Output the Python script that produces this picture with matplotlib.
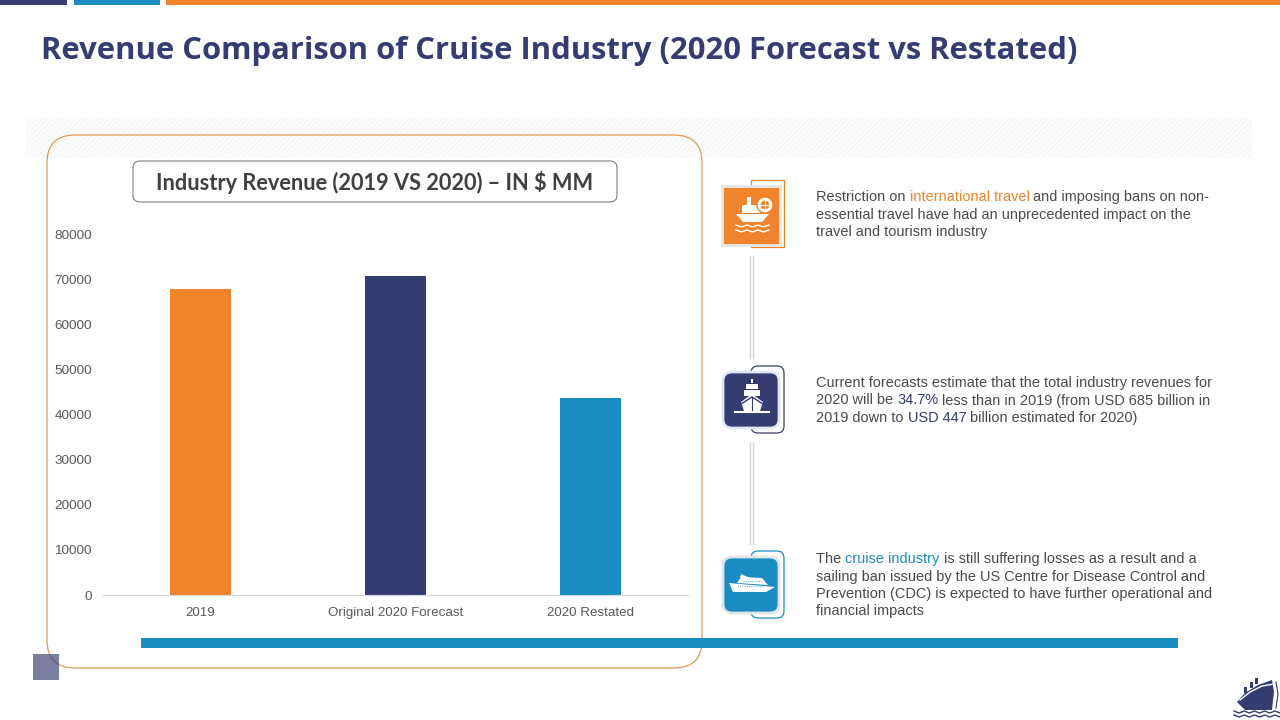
import matplotlib
matplotlib.use('Agg')
import matplotlib.pyplot as plt
from matplotlib.patches import FancyBboxPatch, Rectangle, Polygon, Circle

ORANGE = '#f0842c'
NAVY = '#343c72'
BLUE = '#1a8cc1'
DARK = '#404040'
BODY = '#4a4a4a'

categories = ['2019', 'Original 2020 Forecast', '2020 Restated']
revenue = [68000, 70800, 43800]
bar_colors = [ORANGE, NAVY, BLUE]
y_ticks = [0, 10000, 20000, 30000, 40000, 50000, 60000, 70000, 80000]

title = 'Revenue Comparison of Cruise Industry (2020 Forecast vs Restated)'
chart_title = 'Industry Revenue (2019 VS 2020) – IN $ MM'

# each line is a list of (text, colour) runs
para1 = [
    [('Restriction on ', BODY), ('international travel', ORANGE), (' and imposing bans on non-', BODY)],
    [('essential travel have had an unprecedented impact on the', BODY)],
    [('travel and tourism industry', BODY)],
]
para2 = [
    [('Current forecasts estimate that the total industry revenues for', BODY)],
    [('2020 will be ', BODY), ('34.7%', NAVY), (' less than in 2019 (from USD 685 billion in', BODY)],
    [('2019 down to ', BODY), ('USD 447', NAVY), (' billion estimated for 2020)', BODY)],
]
para3 = [
    [('The ', BODY), ('cruise industry', BLUE), (' is still suffering losses as a result and a', BODY)],
    [('sailing ban issued by the US Centre for Disease Control and', BODY)],
    [('Prevention (CDC) is expected to have further operational and', BODY)],
    [('financial impacts', BODY)],
]

plt.rcParams['hatch.linewidth'] = 0.4
fig = plt.figure(figsize=(12.8, 7.2), dpi=100, facecolor='white')

# page layer in pixel coordinates
bg = fig.add_axes([0, 0, 1, 1], zorder=0)
bg.set_xlim(0, 1280)
bg.set_ylim(720, 0)
bg.axis('off')

# top strips
bg.add_patch(Rectangle((0, 0), 67, 5, fc=NAVY, ec='none'))
bg.add_patch(Rectangle((74, 0), 86, 5, fc=BLUE, ec='none'))
bg.add_patch(Rectangle((166, 0), 1114, 5, fc=ORANGE, ec='none'))

bg.text(41, 51, title, fontsize=22.3, fontweight='bold', color=NAVY,
        family='Open Sans', va='center', ha='left')

# hatched band, it also shows through the top of the chart frame
bg.add_patch(Rectangle((25, 119), 1227, 39, fc='#fcfcfc', ec='#eeeeee', lw=0, hatch='//////'))

# chart frame
bg.add_patch(FancyBboxPatch((47 + 28, 135 + 28), 655 - 56, 533 - 56,
                            boxstyle='round,pad=28,rounding_size=28',
                            fc='none', ec='#e09a55', lw=0.9))

# chart title box
bg.add_patch(FancyBboxPatch((139, 167), 472, 29, boxstyle='round,pad=6,rounding_size=7',
                            fc='white', ec='#7f7f7f', lw=0.8))
bg.text(374.5, 182.5, chart_title, fontsize=15.7, fontweight='bold', color=DARK,
        family='Lato', ha='center', va='center')

# bottom bar and little square
bg.add_patch(Rectangle((141, 638), 1037, 10, fc=BLUE, ec='none'))
bg.add_patch(Rectangle((33, 654), 26, 26, fc=NAVY, ec='none', alpha=0.65, zorder=4))

# connector lines between icons
for y0, y1 in [(256, 358), (443, 544)]:
    bg.plot([749.5, 749.5], [y0, y1], color='#d4d4d4', lw=1)
    bg.plot([753, 753], [y0, y1], color='#d4d4d4', lw=1)


def icon_box(y, color, rounded, outline):
    # offset outline behind, then filled tile
    if rounded:
        bg.add_patch(FancyBboxPatch((755, y - 2), 25, 59, boxstyle='round,pad=4,rounding_size=7',
                                    fc='white', ec=outline, lw=0.9))
        bg.add_patch(FancyBboxPatch((727, y + 4), 48, 48, boxstyle='round,pad=4,rounding_size=9',
                                    fc=color, ec='#e2e5ec', lw=2))
    else:
        bg.add_patch(Rectangle((751, y - 6), 33, 67, fc='white', ec=outline, lw=0.9))
        bg.add_patch(Rectangle((722, y), 58, 59, fc=color, ec='#e8e8e8', lw=2))


def wave(x0, x1, y, color='white', lw=1):
    n = int((x1 - x0) / 5)
    xs = [x0 + i * (x1 - x0) / n for i in range(n + 1)]
    ys = [y + (1 if i % 2 else -1) for i in range(n + 1)]
    bg.plot(xs, ys, color=color, lw=lw, solid_joinstyle='round')


icon_box(186, ORANGE, False, ORANGE)
icon_box(372, NAVY, True, NAVY)
icon_box(557, BLUE, True, BLUE)

# orange tile: ship with globe
bg.add_patch(Polygon([(736, 214), (769, 214), (762, 222), (743, 222)], fc='white', ec='none'))
bg.add_patch(Rectangle((742, 205), 18, 8, fc='white', ec='none'))
bg.add_patch(Rectangle((747, 197), 4, 8, fc='white', ec='none'))
bg.add_patch(Circle((765, 205), 8, fc='white', ec=ORANGE, lw=1))
bg.add_patch(Circle((765, 205), 5, fc=ORANGE, ec='white', lw=0.8))
bg.plot([760, 770], [205, 205], color='white', lw=0.7)
bg.plot([765, 765], [200, 210], color='white', lw=0.7)
wave(736, 769, 226)
wave(736, 769, 231)

# navy tile: front view ship
bg.add_patch(Rectangle((750.5, 379), 2.5, 4, fc='white', ec='none'))
bg.add_patch(Rectangle((746, 384), 12, 5, fc='white', ec='none'))
bg.add_patch(Rectangle((744, 390), 16, 6, fc='white', ec='none'))
bg.add_patch(Polygon([(752, 394), (763, 402), (760, 411), (744, 411), (741, 402)], fc='white', ec='none'))
bg.plot([741, 752, 763], [404, 397, 404], color=NAVY, lw=1)
bg.plot([752, 752], [398, 411], color=NAVY, lw=0.8)
bg.plot([735, 769], [412, 412], color='white', lw=1.5)

# blue tile: cruise liner
bg.add_patch(Polygon([(729, 583), (775, 587), (766, 592), (733, 592)], fc='white', ec='none'))
bg.add_patch(Polygon([(737, 583), (741, 577), (762, 578), (768, 585)], fc='white', ec='none'))
bg.add_patch(Polygon([(740, 578), (741, 574), (750, 578)], fc='white', ec='none'))
bg.plot([738, 764], [586, 587], color=BLUE, lw=0.6, ls=':')
bg.plot([743, 762], [581, 581], color=BLUE, lw=0.6, ls=':')

# corner logo
bg.add_patch(Polygon([(1237, 702), (1245, 693), (1258, 685), (1272, 680), (1274, 692), (1272, 710), (1245, 710)],
                     fc=NAVY, ec='none'))
bg.plot([1240, 1250, 1262, 1274], [700, 692, 686, 684], color='white', lw=1)
for sx, sy in [(1244, 687), (1250, 682), (1255, 678)]:
    bg.add_patch(Rectangle((sx, sy), 3, 6, fc=NAVY, ec='none'))
bg.plot([1276, 1278, 1276], [682, 694, 708], color=NAVY, lw=0.8)
for wy in [712, 716]:
    wave(1234, 1280, wy, NAVY, 1)

# the bar chart itself
ax = fig.add_axes([103 / 1280, 1 - 595 / 720, 585 / 1280, 360 / 720], zorder=2)
ax.patch.set_alpha(0)
ax.bar(range(len(categories)), revenue, width=0.313, color=bar_colors)
ax.set_xlim(-0.5, 2.5)
ax.set_ylim(0, 80000)
ax.set_xticks(range(len(categories)))
ax.set_xticklabels(categories)
ax.set_yticks(y_ticks)
for s in ['top', 'right', 'left']:
    ax.spines[s].set_visible(False)
ax.spines['bottom'].set_color('#d9d9d9')
ax.spines['bottom'].set_linewidth(0.8)
ax.tick_params(axis='both', length=0, labelcolor='#595959')
ax.tick_params(axis='x', pad=15)
ax.tick_params(axis='y', pad=8)
for lab in ax.get_yticklabels():
    lab.set_family('Liberation Sans')
    lab.set_fontsize(9.7)
for lab in ax.get_xticklabels():
    lab.set_family('Liberation Sans')
    lab.set_fontsize(9.6)
    lab.set_verticalalignment('baseline')

renderer = fig.canvas.get_renderer()


def draw_runs(runs, x, y):
    for txt, col in runs:
        bg.text(x, y, txt, fontsize=10.45, color=col, family='Liberation Sans',
                va='baseline', ha='left')
        # measure with guard chars so that edge spaces count
        probe = bg.text(0, 0, '|' + txt + '|', fontsize=10.45, family='Liberation Sans')
        bar = bg.text(0, 0, '||', fontsize=10.45, family='Liberation Sans')
        w = probe.get_window_extent(renderer).width - bar.get_window_extent(renderer).width
        probe.remove()
        bar.remove()
        x += w


def draw_para(lines, x, y, step):
    for i, runs in enumerate(lines):
        draw_runs(runs, x, y + i * step)


draw_para(para1, 816, 201, 17.5)
draw_para(para2, 816, 387, 17.5)
draw_para(para3, 816, 563, 17.5)

fig.savefig('out.png', dpi=100)
